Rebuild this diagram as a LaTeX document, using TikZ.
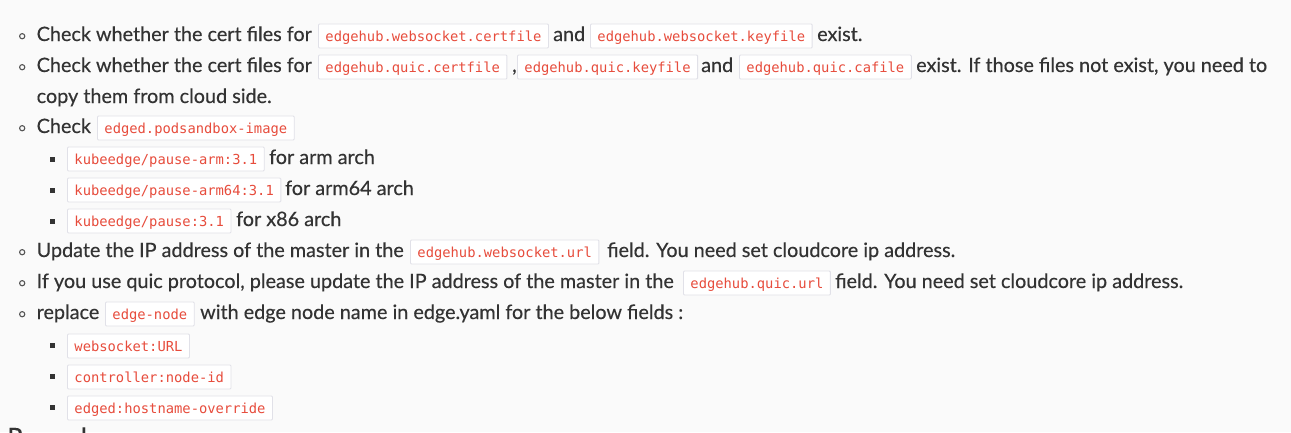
\documentclass[tikz,border=0pt]{standalone}
\usepackage{fontspec}
\setmainfont{Lato}
\newfontfamily\bodyfont{Lato}[FakeBold=0.35]
\newfontfamily\codefont{DejaVu Sans Mono}
\definecolor{bgcol}{HTML}{FAFAFA}
\definecolor{txtcol}{HTML}{333333}
\definecolor{codered}{HTML}{E74C3C}
\definecolor{codeborder}{HTML}{E1E1E8}
\definecolor{bulcol}{HTML}{555555}
\tikzset{
  txt/.style={anchor=base west, inner sep=0pt, text=txtcol, font=\bodyfont\fontsize{19.8}{24}\selectfont},
  code/.style={anchor=base west, draw=codeborder, fill=white, line width=0.9pt, text=codered,
    font=\codefont\fontsize{13.8}{16}\selectfont, inner xsep=7pt, inner ysep=5pt,
    text height=12pt, text depth=2pt, rounded corners=1pt},
  circbul/.style={circle, draw=bulcol, line width=1.1pt, inner sep=0pt, minimum size=5.2pt},
  sqbul/.style={rectangle, fill=txtcol, inner sep=0pt, minimum size=4.7pt},
}
\begin{document}
\begin{tikzpicture}[x=1pt,y=-1pt]
\fill[bgcol] (0,0) rectangle (1291,432);
\useasboundingbox (0,0) rectangle (1291,432);
% line 1
\node[circbul] (b1) at (22.2,36.2) {};
\node[txt] (t1a) at (36.5,41) {Check whether the cert files for};
\node[code] (c1a) at (318,41) {edgehub.websocket.certfile};
\node[txt] (t1b) at (553,41) {and};
\node[code] (c1b) at (590,41) {edgehub.websocket.keyfile};
\node[txt] (t1c) at (817,41) {exist.};
% line 2
\node[circbul] (b2) at (22.2,67.2) {};
\node[txt] (t2a) at (36.5,72) {Check whether the cert files for};
\node[code] (c2a) at (318,72) {edgehub.quic.certfile};
\node[txt] (t2b) at (512,72) {,};
\node[code] (c2b) at (517,72) {edgehub.quic.keyfile};
\node[txt] (t2c) at (701,72) {and};
\node[code] (c2c) at (739,72) {edgehub.quic.cafile};
\node[txt] (t2d) at (916,72) {exist. If those files not exist, you need to};
\node[txt] (t2e) at (36.5,103) {copy them from cloud side.};
% line 3
\node[circbul] (b3) at (22.2,128.2) {};
\node[txt] (t3a) at (36.5,133) {Check};
\node[code] (c3a) at (97,133) {edged.podsandbox-image};
\node[sqbul] (s1) at (52.2,159.3) {};
\node[code] (c3b) at (67,164) {kubeedge/pause-arm:3.1};
\node[txt] (t3b) at (269,164) {for arm arch};
\node[sqbul] (s2) at (52.2,190.3) {};
\node[code] (c3c) at (67,195) {kubeedge/pause-arm64:3.1};
\node[txt] (t3c) at (285,195) {for arm64 arch};
\node[sqbul] (s3) at (52.2,221.3) {};
\node[code] (c3d) at (67,226) {kubeedge/pause:3.1};
\node[txt] (t3d) at (236,226) {for x86 arch};
% line 4
\node[circbul] (b4) at (22.2,252.2) {};
\node[txt] (t4a) at (36.5,257) {Update the IP address of the master in the};
\node[code] (c4a) at (410,257) {edgehub.websocket.url};
\node[txt] (t4b) at (607,257) {field. You need set cloudcore ip address.};
% line 5
\node[circbul] (b5) at (22.2,283.2) {};
\node[txt] (t5a) at (36.5,288) {If you use quic protocol, please update the IP address of the master in the};
\node[code] (c5a) at (683,288) {edgehub.quic.url};
\node[txt] (t5b) at (835,288) {field. You need set cloudcore ip address.};
% line 6
\node[circbul] (b6) at (22.2,314.2) {};
\node[txt] (t6a) at (36.5,319) {replace};
\node[code] (c6a) at (105,319) {edge-node};
\node[txt] (t6b) at (200,319) {with edge node name in edge.yaml for the below fields :};
\node[sqbul] (s4) at (52.2,345.5) {};
\node[code] (c6b) at (67,351) {websocket:URL};
\node[sqbul] (s5) at (52.2,376.5) {};
\node[code] (c6c) at (67,382) {controller:node-id};
\node[sqbul] (s6) at (52.2,407.5) {};
\node[code] (c6d) at (67,413) {edged:hostname-override};
% cut-off next line
\begin{scope}
\clip (0,0) rectangle (1291,432);
\node[txt, font=\bodyfont\fontsize{26}{30}\selectfont] (next) at (7,446.5) {Run edgecore};
\end{scope}
\end{tikzpicture}
\end{document}
